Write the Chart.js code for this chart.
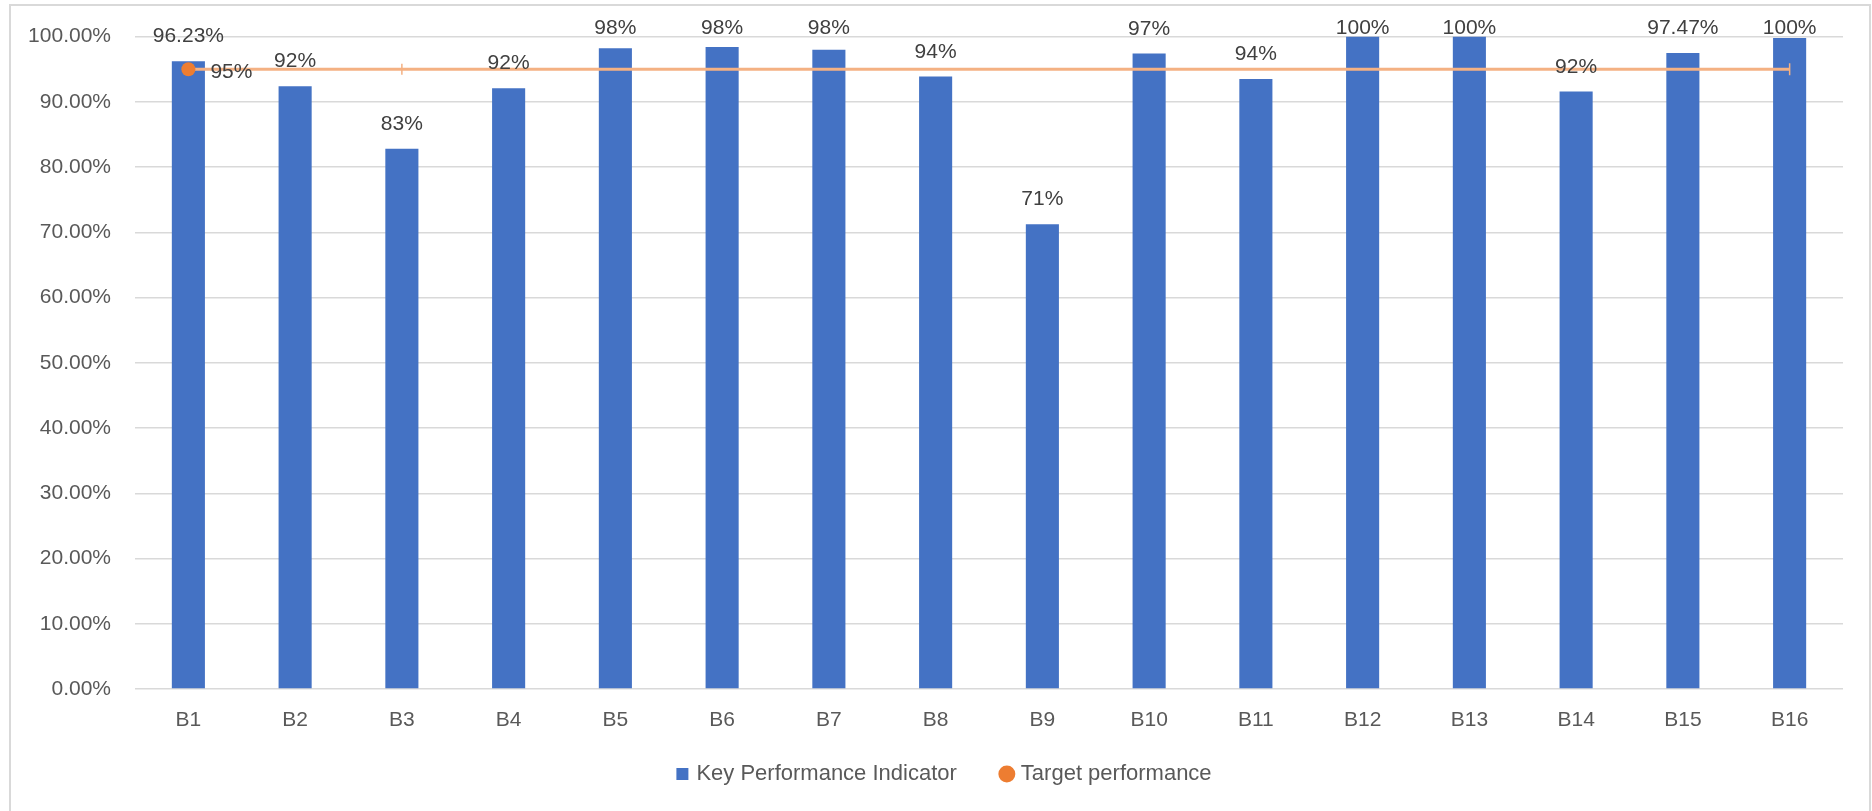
<!DOCTYPE html>
<html><head><meta charset="utf-8">
<script src="https://cdn.jsdelivr.net/npm/chart.js@4"></script>
<style>
html,body{margin:0;padding:0;background:#fff;width:1872px;height:811px;overflow:hidden}
#wrap{position:relative;width:1872px;height:811px}
#frame{position:absolute;left:9px;top:4px;width:1862px;height:900px;border:2px solid #D9D9D9;box-sizing:border-box;pointer-events:none}
canvas{position:absolute;left:0;top:0}
</style></head><body>
<div id="wrap"><canvas id="c" width="1872" height="811"></canvas><div id="frame"></div></div>
<script>
const categories = ['B1','B2','B3','B4','B5','B6','B7','B8','B9','B10','B11','B12','B13','B14','B15','B16'];
const kpiValues = [0.9623, 0.924, 0.828, 0.921, 0.982, 0.984, 0.980, 0.939, 0.7125, 0.974, 0.935, 1.0, 1.0, 0.916, 0.9747, 0.998];
const kpiLabels = ['96.23%','92%','83%','92%','98%','98%','98%','94%','71%','97%','94%','100%','100%','92%','97.47%','100%'];
const targetValues = [0.95,0.95,0.95,0.95,0.95,0.95,0.95,0.95,0.95,0.95,0.95,0.95,0.95,0.95,0.95,0.95];
const targetLabels = ['95%','','','','','','','','','','','','','','',''];
const yTickLabels = ['0.00%','10.00%','20.00%','30.00%','40.00%','50.00%','60.00%','70.00%','80.00%','90.00%','100.00%'];

const FONT = '"Liberation Sans", Arial, sans-serif';
const TEXT = '#595959';

const labelPlugin = {
  id: 'valueLabels',
  afterLayout(chart) {
    const lg = chart.legend;
    if (lg) {
      lg.left += 14; lg.right += 14;
      lg.top -= 16; lg.bottom -= 16;
    }
  },
  afterDatasetsDraw(chart) {
    const ctx = chart.ctx;
    ctx.save();
    ctx.font = '21px ' + FONT;
    ctx.fillStyle = '#404040';
    ctx.textBaseline = 'middle';
    ctx.textAlign = 'center';
    const barMeta = chart.getDatasetMeta(0);
    barMeta.data.forEach((el, i) => {
      const y = Math.max(el.y - 24.5, chart.chartArea.top - 8);
      ctx.fillText(kpiLabels[i], el.x, y);
    });
    const lineMeta = chart.getDatasetMeta(1);
    ctx.textAlign = 'left';
    lineMeta.data.forEach((el, i) => {
      if (targetLabels[i]) ctx.fillText(targetLabels[i], el.x + 22, el.y + 2.5);
    });
    ctx.restore();
  }
};

const n = categories.length;
const ptRadius = categories.map((c, i) => i === 0 ? 7 : (i === 2 ? 5.5 : (i === n - 1 ? 6 : 0)));
const ptStyle = categories.map((c, i) => (i === 2 || i === n - 1) ? 'line' : 'circle');
const ptRot = categories.map((c, i) => (i === 2 || i === n - 1) ? 90 : 0);
const ptBorder = categories.map((c, i) => i === 0 ? '#ED7D31' : '#F4B183');
const ptBorderW = categories.map((c, i) => i === 0 ? 0 : 1.5);

new Chart(document.getElementById('c'), {
  type: 'bar',
  data: {
    labels: categories,
    datasets: [
      {
        type: 'bar',
        label: 'Key Performance Indicator',
        data: kpiValues,
        backgroundColor: '#4472C4',
        borderWidth: 0,
        barPercentage: 1,
        categoryPercentage: 0.31,
        pointStyle: 'rect',
        order: 1
      },
      {
        type: 'line',
        label: 'Target performance',
        data: targetValues,
        borderColor: '#F4B183',
        borderWidth: 3,
        backgroundColor: '#ED7D31',
        pointBackgroundColor: '#ED7D31',
        pointBorderColor: ptBorder,
        pointBorderWidth: ptBorderW,
        pointRadius: ptRadius,
        pointStyle: ptStyle,
        pointRotation: ptRot,
        fill: false,
        tension: 0,
        order: 0
      }
    ]
  },
  options: {
    responsive: false,
    animation: false,
    devicePixelRatio: 1,
    layout: { padding: { top: 34, left: 20, right: 29, bottom: 0 } },
    plugins: {
      tooltip: { enabled: false },
      legend: {
        position: 'bottom',
        labels: {
          usePointStyle: true,
          boxWidth: 6,
          boxHeight: 12,
          padding: 47,
          color: TEXT,
          font: { family: FONT, size: 22 },
          sort: (a, b) => a.datasetIndex - b.datasetIndex
        }
      }
    },
    scales: {
      x: {
        grid: { display: false, drawTicks: false },
        border: { display: false },
        ticks: { color: TEXT, font: { family: FONT, size: 21 }, padding: 19 },
        afterFit: (s) => { s.height = 43; }
      },
      y: {
        min: 0, max: 1,
        grid: { color: '#D9D9D9', lineWidth: 1.5, drawTicks: false },
        border: { display: false },
        ticks: {
          stepSize: 0.1,
          color: TEXT,
          padding: 24,
          font: { family: FONT, size: 21 },
          callback: (v, i) => yTickLabels[i]
        },
        afterFit: (s) => { s.width = 115; }
      }
    }
  },
  plugins: [labelPlugin]
});
</script>
</body></html>
